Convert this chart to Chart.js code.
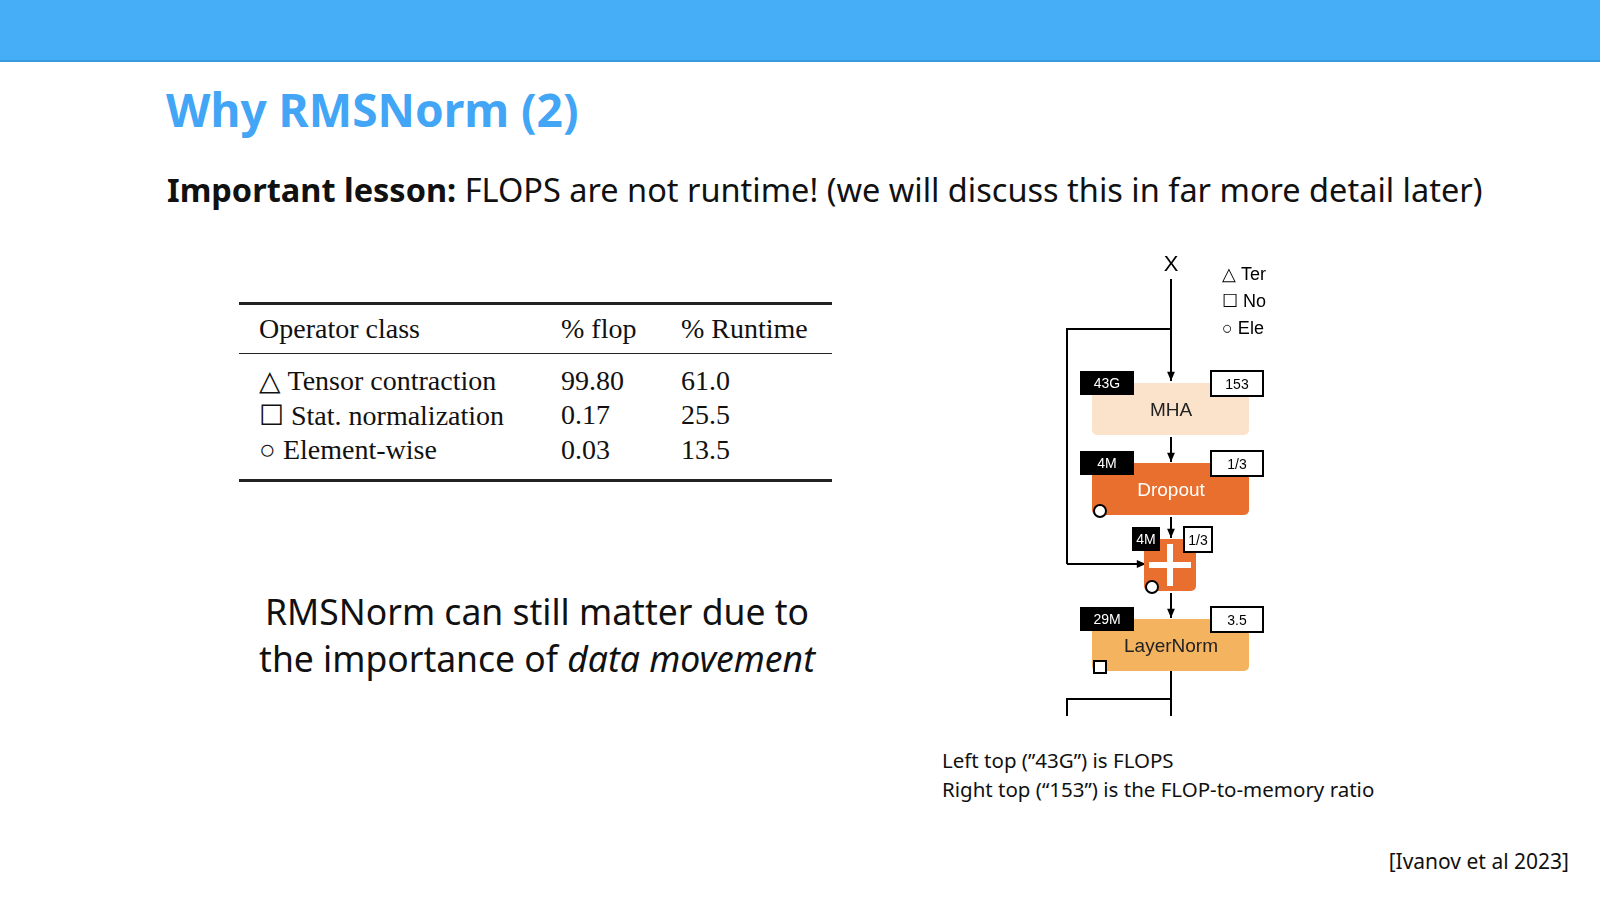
<!DOCTYPE html>
<html><head><meta charset="utf-8">
<script src="https://cdn.jsdelivr.net/npm/chart.js@4"></script>
<style>
body{margin:0;width:1600px;height:901px;background:#fff;font-family:"Noto Sans",sans-serif;position:relative;overflow:hidden}
.bar{position:absolute;left:0;top:0;width:1600px;height:60px;background:#45aef7;border-bottom:2px solid #3a9ae0}
.abs{position:absolute;white-space:nowrap}
table{border-collapse:collapse;font-family:"Liberation Serif",serif;font-size:28px;color:#111}
</style></head><body>
<div class="bar"></div>
<div class="abs" style="left:166px;top:78px;font-size:46px;font-weight:bold;color:#42a5f5">Why RMSNorm (2)</div>
<div class="abs" style="left:167px;top:167px;font-size:32.5px;color:#111"><b>Important lesson:</b> FLOPS are not runtime! (we will discuss this in far more detail later)</div>
<div class="abs" id="tbl" style="left:239px;top:302px;width:593px"></div>
<div class="abs" style="left:254px;top:588px;width:566px;text-align:center;font-size:35.5px;line-height:47px;color:#111">RMSNorm can still matter due to<br>the importance of <i>data movement</i></div>
<div class="abs" style="left:1054px;top:251px;width:240px;height:470px"><canvas id="c"></canvas></div>
<div class="abs" style="left:942px;top:746px;font-size:20.5px;line-height:28.5px;color:#111">Left top (”43G”) is FLOPS<br>Right top (“153”) is the FLOP-to-memory ratio</div>
<div class="abs" style="right:31px;top:847px;font-size:21px;color:#111">[Ivanov et al 2023]</div>
<script>
const operatorClasses=["Tensor contraction","Stat. normalization","Element-wise"];
const classSymbols=["△","☐","○"];
const flopPct=["99.80","0.17","0.03"];
const runtimePct=["61.0","25.5","13.5"];
const nodeNames=["MHA","Dropout","+","LayerNorm"];
const nodeFlops=["43G","4M","4M","29M"];
const nodeRatios=["153","1/3","1/3","3.5"];
const nodeColors=["#fbe3cb","#e96f2e","#e96f2e","#f3b35f"];

let h='<table style="width:100%;border-top:3px solid #222;border-bottom:3px solid #222">';
h+='<tr style="border-bottom:1.5px solid #222;height:50px"><td style="padding-left:20px;width:300px">Operator class</td><td style="width:118px">% flop</td><td>% Runtime</td></tr>';
operatorClasses.forEach((c,i)=>{h+=`<tr style="height:${i==0?44:32}px;vertical-align:${i==0?'bottom':'middle'}"><td style="padding-left:20px">${classSymbols[i]} ${c}</td><td>${flopPct[i]}</td><td>${runtimePct[i]}</td></tr>`;});
h+='<tr style="height:14px"><td></td></tr></table>';
document.getElementById('tbl').innerHTML=h;

const diagram={id:'diagram',afterDraw(ch){
 const ctx=ch.ctx,x=ch.scales.x,y=ch.scales.y;
 const X=v=>x.getPixelForValue(v),Y=v=>y.getPixelForValue(v);
 ctx.save();ctx.strokeStyle='#000';ctx.fillStyle='#000';ctx.lineWidth=2;
 const arrow=(x0,y0,x1,y1)=>{ctx.strokeStyle='#000';ctx.fillStyle='#000';ctx.beginPath();ctx.moveTo(x0,y0);ctx.lineTo(x1,y1);ctx.stroke();
  const a=Math.atan2(y1-y0,x1-x0);ctx.beginPath();ctx.moveTo(x1,y1);ctx.lineTo(x1-10*Math.cos(a-0.4),y1-10*Math.sin(a-0.4));ctx.lineTo(x1-10*Math.cos(a+0.4),y1-10*Math.sin(a+0.4));ctx.fill();};
 ctx.font='22px "Liberation Sans"';ctx.textAlign='center';ctx.fillText('X',X(117),Y(20));
 ctx.font='18px "Liberation Sans"';ctx.textAlign='left';
 ['△ Ter','☐ No','○ Ele'].forEach((t,i)=>ctx.fillText(t,X(168),Y(29+i*27)));
 arrow(X(117),Y(28),X(117),Y(130));
 ctx.beginPath();ctx.moveTo(X(117),Y(78));ctx.lineTo(X(13),Y(78));ctx.lineTo(X(13),Y(313));ctx.stroke();
 arrow(X(13),Y(313),X(92),Y(313));
 nodeNames.forEach((n,i)=>{
  const plus=n==='+';const cy=[157,237,313,393][i];
  const x0=plus?X(90):X(38),x1=plus?X(142):X(195),top=Y(cy-25),bot=Y(cy+27);
  ctx.fillStyle=nodeColors[i];ctx.beginPath();ctx.roundRect(x0,top,x1-x0,bot-top,5);ctx.fill();
  if(plus){ctx.strokeStyle='#fff';ctx.lineWidth=6;ctx.beginPath();ctx.moveTo(X(116),top+5);ctx.lineTo(X(116),bot-5);ctx.moveTo(x0+5,Y(cy+1));ctx.lineTo(x1-5,Y(cy+1));ctx.stroke();ctx.strokeStyle='#000';ctx.lineWidth=2;}
  else{ctx.fillStyle=i==1?'#fff':'#222';ctx.font='19px "Liberation Sans"';ctx.textAlign='center';ctx.fillText(n,X(117),Y(cy+2)+6);}
  const bx=plus?X(78):X(26),bw=plus?28:54,by=Y(cy-37);
  ctx.fillStyle='#000';ctx.fillRect(bx,by,bw,24);ctx.fillStyle='#fff';ctx.font='14px "Liberation Sans"';ctx.textAlign='center';ctx.fillText(nodeFlops[i],bx+bw/2,by+17);
  const rx=plus?X(130):X(157),rw=plus?28:52;
  ctx.strokeStyle='#000';ctx.fillStyle='#fff';ctx.fillRect(rx,by,rw,25);ctx.strokeRect(rx,by,rw,25);ctx.fillStyle='#000';ctx.fillText(nodeRatios[i],rx+rw/2,by+18);
  const sx=plus?X(98):X(46),sy=bot-4;
  ctx.fillStyle='#fff';ctx.beginPath();
  if(i==3){ctx.rect(sx-6,sy-6,12,12);}else if(i!=0){ctx.arc(sx,sy,6,0,7);}
  ctx.fill();if(i!=0)ctx.stroke();
  if(i<3)arrow(X(117),bot+2,X(117),Y([237,313,393][i]-26));
 });
 ctx.strokeStyle='#000';ctx.beginPath();ctx.moveTo(X(117),Y(420));ctx.lineTo(X(117),Y(465));ctx.moveTo(X(117),Y(448));ctx.lineTo(X(13),Y(448));ctx.lineTo(X(13),Y(465));ctx.stroke();
 ctx.restore();}};
new Chart(document.getElementById('c'),{type:'scatter',data:{datasets:[{data:[]}]},
 options:{responsive:true,maintainAspectRatio:false,animation:false,layout:{padding:0},
 plugins:{legend:{display:false},tooltip:{enabled:false}},
 scales:{x:{display:false,min:0,max:240},y:{display:false,min:0,max:470,reverse:true}}},plugins:[diagram]});
</script></body></html>
